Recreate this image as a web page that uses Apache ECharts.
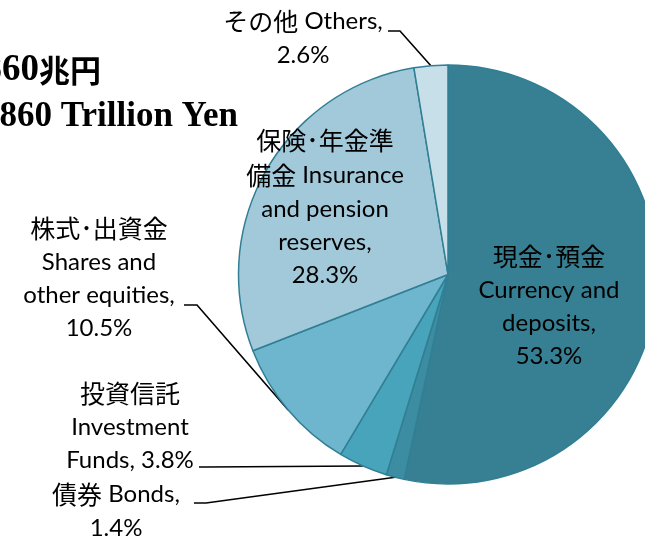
<!DOCTYPE html>
<html><head><meta charset="utf-8">
<script src="https://cdn.jsdelivr.net/npm/echarts@6/dist/echarts.min.js"></script>
<style>html,body{margin:0;padding:0;background:#fff}#c{width:645px;height:542px}</style>
</head><body><div id="c"></div>
<script>
// ---- data ----
const categoriesJa = ['現金･預金', '債券', '投資信託', '株式･出資金', '保険･年金準備金', 'その他'];
const categoriesEn = ['Currency and deposits', 'Bonds', 'Investment Funds', 'Shares and other equities', 'Insurance and pension reserves', 'Others'];
const shares = [53.3, 1.4, 3.8, 10.5, 28.3, 2.6];
const totalJa = '1,860兆円';
const totalEn = '1,860 Trillion Yen';

// ---- style ----
const colors = ['#377F92', '#3C8DA2', '#47A4BB', '#6DB6CE', '#A2C9DA', '#C6DFE8'];
const CX = 448, CY = 274.5, R = 209.5;
const fmtPct = v => v.toFixed(1) + '%';
const labelText = [
  v => '{j|現金･預金}\nCurrency and\ndeposits,\n' + fmtPct(v),
  v => '{j|債券} Bonds,\n' + fmtPct(v),
  v => '{j|投資信託}\nInvestment\nFunds, ' + fmtPct(v),
  v => '{j|株式･出資金}\nShares and\nother equities,\n' + fmtPct(v),
  v => '{j|保険･年金準}\n{j|備金} Insurance\nand pension\nreserves,\n' + fmtPct(v),
  v => '{j|その他} Others,\n' + fmtPct(v)
];
// label centre, leader elbow, leader end
const labelPos = [
  [549, 306],
  [116, 511, [206, 503], [194, 503]],
  [130, 426, [206, 467], [199, 467]],
  [99, 278, [197, 305], [184, 305]],
  [325, 207],
  [303, 38, [400, 31], [388, 31]]
];
const total = shares.reduce((a, b) => a + b, 0);
function edgePoint(i) {
  let cum = 0;
  for (let k = 0; k < i; k++) cum += shares[k];
  const th = (cum + shares[i] / 2) / total * 2 * Math.PI;
  return [CX + R * Math.sin(th), CY - R * Math.cos(th)];
}
const insideIdx = [0, 4];

const chart = echarts.init(document.getElementById('c'), null, {renderer: 'canvas'});
const data = shares.map((v, i) => ({
  name: categoriesJa[i] + ' ' + categoriesEn[i],
  value: v,
  itemStyle: {color: colors[i]},
  label: {position: insideIdx.includes(i) ? 'inside' : 'outside'},
  labelLine: {show: !insideIdx.includes(i)}
}));

const jaNum = totalJa.replace('兆円', '');
chart.setOption({
  animation: false,
  backgroundColor: '#fff',
  graphic: [
    {type: 'text', x: 101, y: 70, style: {
      text: '{a|' + jaNum + '}{b|兆円}', align: 'right', verticalAlign: 'middle', fill: '#000',
      rich: {
        a: {fontFamily: 'Liberation Serif', fontWeight: 'bold', fontSize: 37},
        b: {fontFamily: 'Noto Sans CJK JP', fontWeight: 'bold', fontSize: 31}
      }
    }},
    {type: 'text', x: 238, y: 117, style: {
      text: totalEn, align: 'right', verticalAlign: 'middle', fill: '#000',
      fontFamily: 'Liberation Serif', fontWeight: 'bold', fontSize: 35
    }}
  ],
  series: [{
    type: 'pie',
    center: [CX, CY],
    radius: R,
    startAngle: 90,
    clockwise: true,
    avoidLabelOverlap: false,
    itemStyle: {borderColor: '#317F94', borderWidth: 1.5},
    label: {
      show: true,
      color: '#000',
      fontFamily: "Lato, 'Noto Sans CJK JP', sans-serif",
      fontSize: 24,
      lineHeight: 33,
      align: 'center',
      formatter: p => labelText[p.dataIndex](p.value),
      rich: {
        j: {fontFamily: 'Noto Sans CJK JP', fontSize: 25, lineHeight: 35, color: '#000'}
      }
    },
    labelLine: {lineStyle: {color: '#000', width: 1.6}, smooth: false},
    labelLayout: function (p) {
      const i = p.dataIndex;
      const L = labelPos[i];
      const out = {x: L[0], y: L[1], align: 'center', verticalAlign: 'middle'};
      if (L[2]) out.labelLinePoints = [edgePoint(i), L[2], L[3]];
      return out;
    },
    emphasis: {disabled: true},
    data: data
  }]
});
</script>
</body></html>
